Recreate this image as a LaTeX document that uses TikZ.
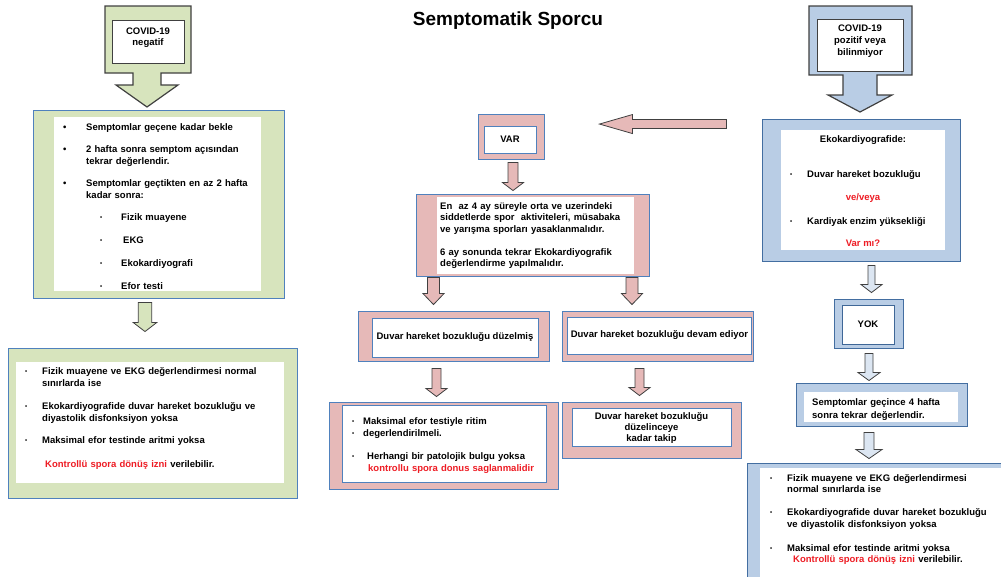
\documentclass[tikz,border=0pt]{standalone}
\usepackage{fontspec}
\setmainfont{Liberation Sans}
\usepackage{xcolor}
\usepackage{tikz}
\usetikzlibrary{calc}
\definecolor{grnFill}{RGB}{215,228,189}
\definecolor{pinkFill}{RGB}{230,185,184}
\definecolor{bluFill}{RGB}{185,205,229}
\definecolor{bluLight}{RGB}{220,230,242}
\definecolor{edgeBlue}{RGB}{79,129,189}
\definecolor{darkLine}{RGB}{64,64,64}
\definecolor{warnRed}{RGB}{238,28,36}

\newcommand{\bodyfont}{\fontsize{9.5}{12}\selectfont\bfseries}
\newcommand{\bul}[1][23pt]{\makebox[#1][l]{\textbullet}}
\newcommand{\bulsm}[1][17pt]{\makebox[#1][l]{\raisebox{1pt}{\fontsize{6}{6}\selectfont\textbullet}}}
% block arrows: style, from, to, half shaft, half head, head length
\newcommand{\blkdown}[6]{%
  \draw[#1] let \p1=(#2), \p2=(#3) in
    (\x1-#4,\y1) -- (\x1+#4,\y1) -- (\x1+#4,\y2+#6) -- (\x1+#5,\y2+#6)
    -- (\x1,\y2) -- (\x1-#5,\y2+#6) -- (\x1-#4,\y2+#6) -- cycle;}
\newcommand{\blkleft}[6]{%
  \draw[#1] let \p1=(#2), \p2=(#3) in
    (\x1,\y1-#4) -- (\x1,\y1+#4) -- (\x2+#6,\y1+#4) -- (\x2+#6,\y1+#5)
    -- (\x2,\y1) -- (\x2+#6,\y1-#5) -- (\x2+#6,\y1-#4) -- cycle;}

\begin{document}
\begin{tikzpicture}[x=1pt, y=-1pt,
    grnframe/.style={draw=edgeBlue, fill=grnFill, line width=0.9pt},
    pinkframe/.style={draw=edgeBlue, fill=pinkFill, line width=0.9pt},
    bluframe/.style={draw=edgeBlue!85!black, fill=bluFill, line width=0.9pt},
    plainin/.style={fill=white, draw=none},
    boxin/.style={fill=white, draw=edgeBlue, line width=0.8pt, font=\bodyfont},
    calin/.style={fill=white, draw=darkLine, line width=0.9pt},
    grncall/.style={draw=darkLine, fill=grnFill, line width=1.2pt},
    blucall/.style={draw=darkLine, fill=bluFill, line width=1.2pt},
    grnarr/.style={draw=darkLine, fill=grnFill, line width=0.8pt},
    pinkarr/.style={draw=darkLine, fill=pinkFill, line width=0.8pt},
    bluarr/.style={draw=darkLine, fill=bluLight, line width=0.8pt},
    txt/.style={font=\bodyfont, inner sep=0pt, text width=260pt, align=left, anchor=base west},
    lbl/.style={font=\bodyfont, inner sep=0pt}
]
\useasboundingbox (0,0) rectangle (1001,576);

\node[font=\fontsize{19}{22}\selectfont\bfseries, anchor=base] (title) at (508,25) {Semptomatik Sporcu};

% left column
\draw[grncall] (105,6) -- (191,6) -- (191,73) -- (161,73) -- (161,85) -- (178,85)
    -- (147,107) -- (116,85) -- (133,85) -- (133,73) -- (105,73) -- cycle;
\node[calin, minimum width=72pt, minimum height=43pt] (negin) at (148,41.5) {};
\node[lbl, align=center, font=\fontsize{9.5}{11}\selectfont\bfseries] (neglbl) at (148,37.5) {COVID-19\\negatif};

\node[grnframe, minimum width=251pt, minimum height=188pt] (grnbox) at (158.5,204) {};
\node[plainin, minimum width=207pt, minimum height=174pt] (grnin) at (157.5,204) {};
\node[txt, font=\fontsize{9.5}{12.5}\selectfont\bfseries] (negtxt) at (63,130) {%
  \bul Semptomlar geçene kadar bekle\\[9.5pt]
  \bul 2 hafta sonra semptom açısından\\
  \hspace*{23pt}tekrar değerlendir.\\[9pt]
  \bul Semptomlar geçtikten en az 2 hafta\\
  \hspace*{23pt}kadar sonra:\\[9.5pt]
  \hspace*{37pt}\bulsm[21pt]Fizik muayene\\[10.5pt]
  \hspace*{37pt}\bulsm[21pt]\hspace{2pt}EKG\\[10.5pt]
  \hspace*{37pt}\bulsm[21pt]Ekokardiyografi\\[10.5pt]
  \hspace*{37pt}\bulsm[21pt]Efor testi};

\node[grnframe, minimum width=289pt, minimum height=150pt] (grnres) at (152.5,423) {};
\node[plainin, minimum width=268pt, minimum height=121pt] (grnresin) at (150,422.5) {};
\node[txt] (negres) at (25,374) {%
  \bulsm Fizik muayene ve EKG değerlendirmesi normal\\
  \hspace*{17pt}sınırlarda ise\\[11pt]
  \bulsm Ekokardiyografide duvar hareket bozukluğu ve\\
  \hspace*{17pt}diyastolik disfonksiyon yoksa\\[10pt]
  \bulsm Maksimal efor testinde aritmi yoksa\\[12pt]
  \hspace*{20pt}\textcolor{warnRed}{Kontrollü spora dönüş izni} verilebilir.};

% middle column
\node[pinkframe, minimum width=66pt, minimum height=45pt] (varbox) at (511,136.5) {};
\node[boxin, minimum width=52pt, minimum height=27pt] (varin) at (510,139.5) {VAR};

\node[pinkframe, minimum width=233pt, minimum height=82pt] (midbox) at (532.5,235) {};
\node[plainin, minimum width=197pt, minimum height=77pt] (midin) at (535.5,235.5) {};
\node[txt, font=\fontsize{9.5}{11.5}\selectfont\bfseries] (midtxt) at (440,209) {%
  En \ az 4 ay süreyle orta ve uzerindeki\\
  siddetlerde spor \ aktiviteleri, müsabaka\\
  ve yarışma sporları yasaklanmalıdır.\\[11.5pt]
  6 ay sonunda tekrar Ekokardiyografik\\
  değerlendirme yapılmalıdır.};

\node[pinkframe, minimum width=191pt, minimum height=50pt] (duzbox) at (453.5,336) {};
\node[boxin, minimum width=166pt, minimum height=39pt] (duzin) at (455,337.5) {Duvar hareket bozukluğu düzelmiş};

\node[pinkframe, minimum width=191pt, minimum height=50pt] (devbox) at (657.5,336) {};
\node[boxin, minimum width=183pt, minimum height=37pt] (devin) at (659.5,335.5) {Duvar hareket bozukluğu devam ediyor};

\node[pinkframe, minimum width=229pt, minimum height=87pt] (eforbox) at (443.5,445.5) {};
\node[boxin, minimum width=204pt, minimum height=77pt] (eforin) at (444,443.5) {};
\node[txt] (efortxt) at (352,424) {%
  \bulsm[11pt]Maksimal efor testiyle ritim\\
  \bulsm[11pt]degerlendirilmeli.\\[11pt]
  \bulsm[15pt]Herhangi bir patolojik bulgu yoksa\\
  \hspace*{16pt}\textcolor{warnRed}{kontrollu spora donus saglanmalidir}};

\node[pinkframe, minimum width=179pt, minimum height=56pt] (takipbox) at (651.5,430) {};
\node[boxin, minimum width=159pt, minimum height=37pt, align=center,
    font=\fontsize{9.5}{11}\selectfont\bfseries] (takipin) at (651.5,427.5)
    {Duvar hareket bozukluğu\\düzelinceye\\kadar takip};

% right column
\draw[blucall] (809,6) -- (912,6) -- (912,75) -- (877,75) -- (877,95) -- (892,95)
    -- (860,112) -- (828,95) -- (843,95) -- (843,75) -- (809,75) -- cycle;
\node[calin, minimum width=86pt, minimum height=52pt] (posin) at (860,45) {};
\node[lbl, align=center, font=\fontsize{9.5}{12}\selectfont\bfseries] (poslbl) at (860,41) {COVID-19\\pozitif veya\\bilinmiyor};

\node[bluframe, minimum width=198pt, minimum height=142pt] (blubox) at (861,190) {};
\node[plainin, minimum width=164pt, minimum height=120pt] (bluin) at (863,190) {};
\node[lbl, anchor=base] (ekotitle) at (863,142) {Ekokardiyografide:};
\node[lbl, anchor=base west] (ekob1) at (790,177) {\bulsm Duvar hareket bozukluğu};
\node[lbl, anchor=base, text=warnRed] (ekovev) at (863,200) {ve/veya};
\node[lbl, anchor=base west] (ekob2) at (790,224) {\bulsm Kardiyak enzim yüksekliği};
\node[lbl, anchor=base, text=warnRed] (ekovar) at (863,246) {Var mı?};

\node[bluframe, minimum width=69pt, minimum height=49pt] (yokbox) at (868.5,323.5) {};
\node[boxin, draw=edgeBlue!80!black, minimum width=52pt, minimum height=39pt] (yokin) at (868,324.5) {YOK};

\node[bluframe, minimum width=171pt, minimum height=43pt] (sempbox) at (881.5,404.5) {};
\node[plainin, minimum width=154pt, minimum height=30pt] (sempin) at (881,407) {};
\node[txt, font=\fontsize{9.5}{13}\selectfont\bfseries] (semptxt) at (812,405) {%
  Semptomlar geçince 4 hafta\\
  sonra tekrar değerlendir.};

\begin{scope}
\clip (0,0) rectangle (1001,576);
\node[bluframe, minimum width=263pt, minimum height=127pt] (blures) at (878.5,526.5) {};
\node[plainin, minimum width=245pt, minimum height=112pt] (bluresin) at (882.5,524) {};
\end{scope}
\node[txt, font=\fontsize{9.5}{11.5}\selectfont\bfseries] (postxt) at (770,481) {%
  \bulsm Fizik muayene ve EKG değerlendirmesi\\
  \hspace*{17pt}normal sınırlarda ise\\[11.5pt]
  \bulsm Ekokardiyografide duvar hareket bozukluğu\\
  \hspace*{17pt}ve diyastolik disfonksiyon yoksa\\[12.5pt]
  \bulsm Maksimal efor testinde aritmi yoksa\\
  \hspace*{23pt}\textcolor{warnRed}{Kontrollü spora dönüş izni} verilebilir.};

% block arrows
\coordinate (arrR) at ($(blubox.north west)+(-35,5.5)$);
\coordinate (arrL) at ($(varbox.east)+(55,-12)$);
\blkleft{pinkarr}{arrR}{arrL}{4.5pt}{9.5pt}{33pt}
\blkdown{grnarr}{$(grnbox.south)+(-13.5,4)$}{$(grnres.north)+(0,-16)$}{6.7pt}{11.7pt}{9pt}
\blkdown{pinkarr}{$(varbox.south)+(2,3)$}{$(midbox.north)+(0,-3)$}{5pt}{10.5pt}{8pt}
\blkdown{pinkarr}{$(midbox.south)+(-99,1)$}{$(duzbox.north)+(0,-6)$}{6pt}{10.5pt}{11pt}
\blkdown{pinkarr}{$(midbox.south)+(99.5,1)$}{$(devbox.north)+(0,-6)$}{6pt}{10.5pt}{11pt}
\blkdown{pinkarr}{$(duzbox.south)+(-17,7)$}{$(eforbox.north)+(0,-5)$}{4.5pt}{10.5pt}{8pt}
\blkdown{pinkarr}{$(devbox.south)+(-18,7)$}{$(takipbox.north)+(0,-6)$}{4.5pt}{10.5pt}{8pt}
\blkdown{bluarr}{$(blubox.south)+(10.5,4)$}{$(yokbox.north)+(0,-6)$}{3.5pt}{10.5pt}{8pt}
\blkdown{bluarr}{$(yokbox.south)+(0.5,5)$}{$(sempbox.north)+(0,-2)$}{4pt}{11pt}{8pt}
\blkdown{bluarr}{$(sempbox.south)+(-12.5,6)$}{$(blures.north)+(0,-4)$}{5pt}{13pt}{9pt}
\end{tikzpicture}
\end{document}
